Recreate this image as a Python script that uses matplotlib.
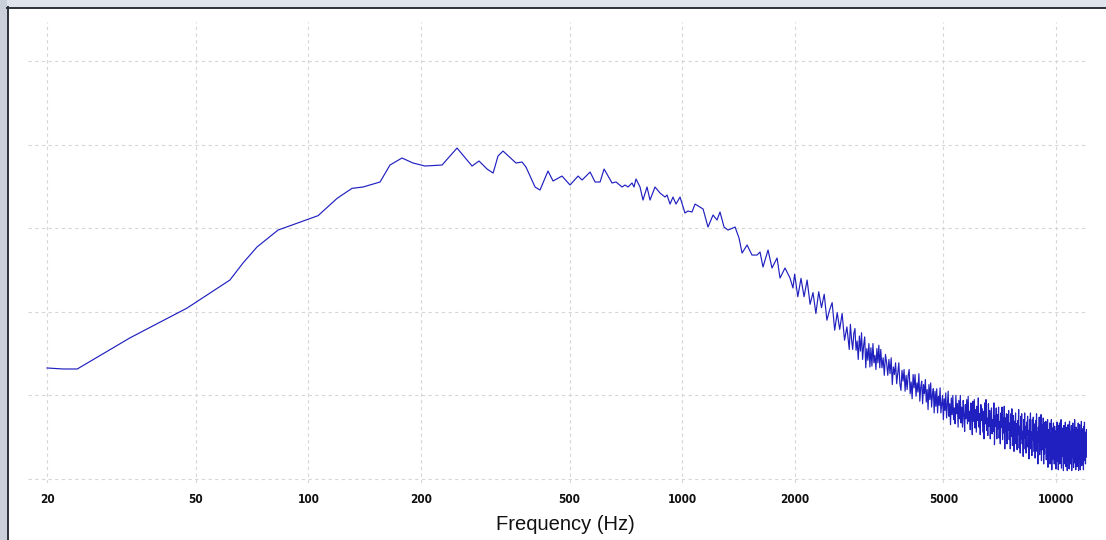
import matplotlib
matplotlib.use('Agg')
import matplotlib.pyplot as plt
from matplotlib.patches import Rectangle
from matplotlib.lines import Line2D
from matplotlib.ticker import FixedLocator, FixedFormatter, NullLocator

# ---- data ----
freq_low = [
    20.0, 22.1, 24.1, 33.3, 47.4, 61.7, 66.9, 72.9, 83.0, 106.2,
    119.4, 130.9, 140.1, 155.6, 165.4, 178.1, 190.6, 205.3, 228.0, 250.0,
    274.2, 286.3, 300.8, 312.2, 321.8, 331.9, 359.5, 373.1, 382.3, 404.2,
    416.8, 437.8, 451.6, 477.2, 501.5, 526.9, 540.1, 567.5, 585.0, 603.4,
    618.4, 649.6, 665.8, 690.8, 703.7, 716.8, 734.6, 743.7, 752.9, 771.7,
    786.0, 805.7, 820.7, 846.4, 872.9, 900.2, 911.4, 928.4, 945.6, 963.2,
    987.3, 1018, 1037, 1063, 1083, 1138, 1173, 1210, 1240, 1263,
    1295, 1327, 1386, 1420, 1447, 1492, 1538, 1587, 1616, 1646,
    1698, 1740, 1795, 1828, 1885, 1944, 1980,
]
level_low = [
    13.28, 13.16, 13.16, 16.87, 20.45, 23.80, 25.84, 27.75, 29.78, 31.50,
    33.57, 34.77, 34.93, 35.53, 37.56, 38.40, 37.80, 37.44, 37.56, 39.59,
    37.44, 38.04, 37.08, 36.60, 38.64, 39.23, 37.80, 37.92, 37.32, 34.93,
    34.57, 36.84, 35.65, 36.24, 35.17, 36.24, 35.77, 36.72, 35.53, 35.53,
    37.08, 35.41, 35.53, 34.93, 35.17, 34.93, 35.41, 34.93, 35.89, 34.93,
    33.37, 34.93, 33.37, 34.93, 34.21, 33.73, 33.97, 32.89, 33.73, 32.89,
    33.73, 31.82, 32.06, 31.94, 32.89, 32.30, 30.14, 31.58, 30.98, 31.94,
    30.14, 29.78, 30.14, 28.83, 27.03, 27.99, 26.79, 26.79, 27.15, 25.36,
    27.39, 25.24, 26.44, 24.04, 25.24, 24.04, 22.85,
]
freq_mid = [
    2000, 2040, 2080, 2120, 2160, 2200, 2240, 2280, 2320, 2360,
    2400, 2440, 2480, 2520, 2560, 2600, 2640, 2680, 2720, 2760,
    2800, 2820, 2840, 2860, 2880, 2900, 2920, 2940, 2960, 2980,
    3000, 3020, 3040, 3060, 3080, 3100, 3120, 3140, 3160, 3180,
    3200, 3220, 3240, 3260, 3280, 3300, 3320, 3340, 3360, 3380,
]
level_mid = [
    24.5, 21.8, 24.0, 21.8, 23.8, 20.9, 22.3, 19.8, 22.4, 20.5,
    22.1, 19.0, 20.2, 21.1, 17.8, 19.9, 17.9, 19.8, 16.6, 18.2,
    15.5, 18.5, 16.7, 15.5, 17.4, 18.0, 15.4, 16.5, 14.3, 17.1,
    15.3, 17.5, 14.3, 16.0, 17.0, 13.3, 15.6, 14.2, 16.2, 13.4,
    15.7, 13.5, 16.2, 13.9, 14.8, 13.1, 15.6, 13.9, 16.0, 13.3,
]
freq_high = [
    3400, 3425, 3450, 3475, 3500, 3525, 3550, 3575,
    3600, 3625, 3650, 3675, 3700, 3725, 3750, 3775,
    3800, 3825, 3850, 3875, 3900, 3925, 3950, 3975,
    4000, 4025, 4050, 4075, 4100, 4125, 4150, 4175,
    4200, 4225, 4250, 4275, 4300, 4325, 4350, 4375,
    4400, 4425, 4450, 4475, 4500, 4525, 4550, 4575,
    4600, 4625, 4650, 4675, 4700, 4725, 4750, 4775,
    4800, 4825, 4850, 4875, 4900, 4925, 4950, 4975,
    5000, 5025, 5050, 5075, 5100, 5125, 5150, 5175,
    5200, 5225, 5250, 5275, 5300, 5325, 5350, 5375,
    5400, 5425, 5450, 5475, 5500, 5525, 5550, 5575,
    5600, 5625, 5650, 5675, 5700, 5725, 5750, 5775,
    5800, 5825, 5850, 5875, 5900, 5925, 5950, 5975,
    6000, 6025, 6050, 6075, 6100, 6125, 6150, 6175,
    6200, 6225, 6250, 6275, 6300, 6325, 6350, 6375,
    6400, 6425, 6450, 6475, 6500, 6525, 6550, 6575,
    6600, 6625, 6650, 6675, 6700, 6725, 6750, 6775,
    6800, 6825, 6850, 6875, 6900, 6925, 6950, 6975,
    7000, 7025, 7050, 7075, 7100, 7125, 7150, 7175,
    7200, 7225, 7250, 7275, 7300, 7325, 7350, 7375,
    7400, 7425, 7450, 7475, 7500, 7525, 7550, 7575,
    7600, 7625, 7650, 7675, 7700, 7725, 7750, 7775,
    7800, 7825, 7850, 7875, 7900, 7925, 7950, 7975,
    8000, 8025, 8050, 8075, 8100, 8125, 8150, 8175,
    8200, 8225, 8250, 8275, 8300, 8325, 8350, 8375,
    8400, 8425, 8450, 8475, 8500, 8525, 8550, 8575,
    8600, 8625, 8650, 8675, 8700, 8725, 8750, 8775,
    8800, 8825, 8850, 8875, 8900, 8925, 8950, 8975,
    9000, 9025, 9050, 9075, 9100, 9125, 9150, 9175,
    9200, 9225, 9250, 9275, 9300, 9325, 9350, 9375,
    9400, 9425, 9450, 9475, 9500, 9525, 9550, 9575,
    9600, 9625, 9650, 9675, 9700, 9725, 9750, 9775,
    9800, 9825, 9850, 9875, 9900, 9925, 9950, 9975,
    10000, 10025, 10050, 10075, 10100, 10125, 10150, 10175,
    10200, 10225, 10250, 10275, 10300, 10325, 10350, 10375,
    10400, 10425, 10450, 10475, 10500, 10525, 10550, 10575,
    10600, 10625, 10650, 10675, 10700, 10725, 10750, 10775,
    10800, 10825, 10850, 10875, 10900, 10925, 10950, 10975,
    11000, 11025, 11050, 11075, 11100, 11125, 11150, 11175,
    11200, 11225, 11250, 11275, 11300, 11325, 11350, 11375,
    11400, 11425, 11450, 11475, 11500, 11525, 11550, 11575,
    11600, 11625, 11650, 11675, 11700, 11725, 11750, 11775,
    11800, 11825, 11850, 11875, 11900, 11925, 11950, 11975,
    12000, 12025, 12050, 12075, 12100,
]
level_high = [
    15.5, 13.3, 14.5, 12.4, 14.9, 13.9, 12.4, 14.3,
    12.6, 14.5, 11.3, 13.4, 12.5, 13.9, 11.4, 12.7,
    13.9, 11.4, 10.6, 13.0, 11.7, 13.1, 10.5, 12.4,
    10.7, 12.4, 13.1, 10.2, 11.6, 9.6, 12.5, 10.9,
    12.5, 9.9, 11.5, 10.4, 12.6, 9.3, 11.0, 11.7,
    9.0, 11.3, 10.2, 11.9, 9.2, 10.7, 8.3, 11.3,
    9.5, 11.5, 8.6, 10.1, 10.8, 7.9, 10.5, 8.7,
    10.8, 7.9, 9.9, 8.8, 10.9, 7.9, 8.9, 10.0,
    7.1, 9.6, 8.2, 10.3, 7.3, 8.9, 10.5, 7.5,
    9.0, 6.5, 9.7, 7.7, 10.0, 7.1, 8.5, 6.6,
    10.0, 7.8, 9.0, 6.2, 9.4, 7.2, 10.0, 6.7,
    8.6, 6.2, 9.4, 7.7, 5.7, 8.9, 7.2, 9.5,
    6.6, 9.9, 6.9, 8.1, 5.9, 9.1, 7.4, 5.3,
    9.3, 6.9, 9.5, 6.1, 8.3, 5.6, 8.7, 7.0,
    9.7, 6.2, 7.8, 5.3, 8.9, 7.0, 8.4, 5.6,
    8.1, 4.8, 9.1, 6.6, 9.5, 5.8, 7.3, 5.2,
    9.0, 6.3, 8.2, 4.8, 7.4, 8.5, 5.4, 7.1,
    5.7, 9.1, 4.1, 7.6, 6.3, 8.5, 4.8, 7.7,
    6.0, 8.6, 4.9, 6.9, 4.2, 7.9, 6.2, 8.6,
    4.7, 7.3, 5.5, 8.7, 3.6, 7.3, 5.7, 7.8,
    4.2, 7.7, 5.8, 8.2, 4.7, 6.7, 3.6, 7.8,
    5.1, 8.4, 4.0, 6.1, 7.6, 3.3, 6.9, 5.1,
    7.9, 4.2, 6.6, 3.5, 7.0, 5.3, 8.3, 3.7,
    6.3, 3.1, 7.5, 4.8, 7.8, 4.2, 5.7, 2.7,
    7.1, 4.9, 7.9, 3.6, 6.3, 3.1, 6.8, 5.2,
    7.5, 3.8, 5.8, 2.4, 7.1, 4.6, 7.9, 3.6,
    5.6, 2.8, 7.1, 4.7, 7.4, 3.3, 5.0, 6.6,
    2.5, 7.0, 4.1, 7.8, 3.3, 5.6, 1.8, 6.2,
    4.5, 7.4, 2.9, 5.9, 3.5, 7.7, 2.2, 5.4,
    6.5, 3.5, 7.3, 1.8, 4.9, 3.0, 6.8, 3.8,
    6.9, 2.3, 5.4, 4.2, 7.1, 1.4, 5.9, 3.0,
    5.0, 6.7, 1.8, 5.5, 3.3, 7.1, 1.1, 4.7,
    6.1, 2.4, 6.7, 3.5, 1.8, 6.3, 4.0, 5.6,
    1.2, 5.8, 3.0, 6.8, 2.1, 4.9, 1.1, 6.4,
    3.5, 6.7, 1.8, 5.2, 2.6, 7.1, 1.3, 4.9,
    6.1, 2.7, 4.4, 1.0, 6.4, 3.1, 5.6, 1.8,
    6.8, 1.5, 5.2, 3.6, 6.2, 1.0, 4.5, 6.5,
    2.1, 5.4, 1.2, 6.9, 3.2, 5.7, 1.8, 4.6,
    6.4, 1.0, 5.0, 2.6, 6.7, 3.5, 1.4, 5.9,
    3.0, 7.1, 1.9, 4.7, 1.1, 6.2, 3.7, 5.5,
    1.5, 5.9, 3.0, 6.7, 1.0, 5.0, 2.4, 6.5,
    3.2, 1.1, 5.7, 2.7, 6.9, 1.6, 4.3, 6.0,
    1.9, 5.2, 1.1, 6.3, 3.3, 6.8, 2.2, 4.7,
    1.8, 5.6, 3.0, 5.9, 2.6,
]
tick_freqs = [20, 50, 100, 200, 500, 1000, 2000, 5000, 10000]
tick_labels = ['20', '50', '100', '200', '500', '1000', '2000', '5000', '10000']
grid_levels = [0, 10, 20, 30, 40, 50]
x_label = 'Frequency (Hz)'

# ---- figure ----
W, H = 1106, 540
fig = plt.figure(figsize=(W / 100, H / 100), dpi=100, facecolor='#dde4ec')
fig.add_artist(Rectangle((0, 0), 7 / W, 1, transform=fig.transFigure,
                         facecolor='#c9d0da', edgecolor='none', zorder=0))
fig.add_artist(Rectangle((7 / W, 0), 1 - 7 / W, 1 - 7 / H, transform=fig.transFigure,
                         facecolor='white', edgecolor='none', zorder=0))
fig.add_artist(Line2D([7 / W, 1], [1 - 8 / H] * 2, transform=fig.transFigure,
                      color='#2b2f36', lw=1.4, zorder=1))
fig.add_artist(Line2D([8 / W] * 2, [0, 1 - 7 / H], transform=fig.transFigure,
                      color='#2b2f36', lw=1.4, zorder=1))

ax = fig.add_axes([28 / W, (H - 483) / H, (1087 - 28) / W, (483 - 22) / H])
ax.set_facecolor('none')
ax.set_xscale('log')
ax.plot(freq_low + freq_mid + freq_high, level_low + level_mid + level_high,
        color='#2020c0', lw=0.85)
ax.set_xlim(17.79, 12112)
ax.set_ylim(-0.48, 54.67)

ax.xaxis.set_major_locator(FixedLocator(tick_freqs))
ax.xaxis.set_major_formatter(FixedFormatter(tick_labels))
ax.xaxis.set_minor_locator(NullLocator())
ax.yaxis.set_minor_locator(NullLocator())
ax.set_yticks(grid_levels)
ax.tick_params(axis='y', length=0, labelleft=False)
ax.tick_params(axis='x', length=0, pad=7)
for s in ax.spines.values():
    s.set_visible(False)
ax.grid(True, color='#d6d6d6', linestyle=(0, (3, 3)), lw=0.8)
ax.set_axisbelow(True)

for lbl in ax.get_xticklabels():
    lbl.set_fontfamily('DejaVu Sans')
    lbl.set_fontstretch('condensed')
    lbl.set_fontweight('bold')
    lbl.set_fontsize(8.5)
    lbl.set_color('#111111')

ax.set_xlabel(x_label, fontsize=14.5, family=['Liberation Sans', 'DejaVu Sans'],
              color='#111111')
ax.xaxis.set_label_coords((565.5 - 28) / (1087 - 28), (483 - 525) / (483 - 22))
ax.xaxis.label.set_va('center')

fig.savefig('out.png', dpi=100, facecolor=fig.get_facecolor())
